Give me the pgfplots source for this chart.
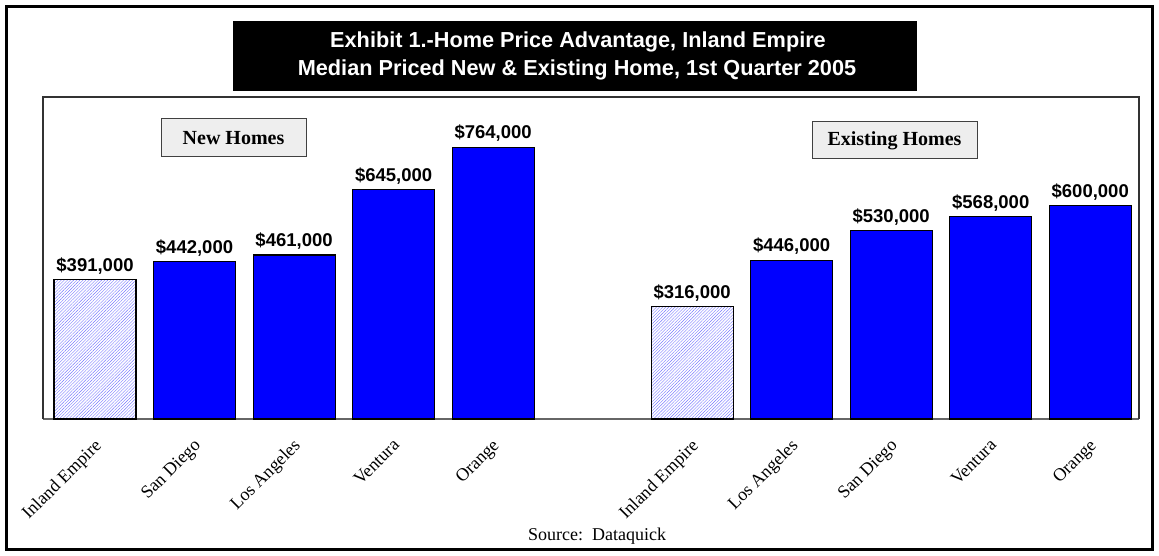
\documentclass[border=0pt]{standalone}
\usepackage{pgfplots}
\pgfplotsset{compat=1.18}
\usepackage{fontspec}
\setmainfont{Liberation Serif}
\newfontfamily\arial{Liberation Sans}
\usetikzlibrary{patterns.meta}
\definecolor{barblue}{RGB}{0,0,255}
\definecolor{hatchblue}{RGB}{120,120,255}
\definecolor{boxgray}{RGB}{238,238,238}
\begin{document}
\begin{tikzpicture}[x=1pt,y=1pt]
\useasboundingbox (0,0) rectangle (1159,556);
\draw[line width=3.2pt] (6.5,6.5) rectangle (1152.5,549.5);
% title
\fill[black] (233,465) rectangle (917,535);
\node[anchor=base,text=white,inner sep=0pt,font={\arial\bfseries\fontsize{21.7}{24}\selectfont}] at (578,508) {Exhibit 1.-Home Price Advantage, Inland Empire};
\node[anchor=base,text=white,inner sep=0pt,font={\arial\bfseries\fontsize{21.7}{24}\selectfont}] at (577,480) {Median Priced New \& Existing Home, 1st Quarter 2005};
\begin{axis}[
  at={(43pt,137pt)}, anchor=south west,
  scale only axis, width=1096pt, height=322pt,
  xmin=-0.5226, xmax=10.49, ymin=0, ymax=905000,
  axis line style={draw=none},
  ytick=\empty,
  xtick={0,1,2,3,4,6,7,8,9,10},
  xticklabels={Inland Empire, San Diego, Los Angeles, Ventura, Orange, Inland Empire, Los Angeles, San Diego, Ventura, Orange},
  major tick length=0pt,
  xticklabel style={rotate=45, anchor=north east, inner sep=0pt, font=\fontsize{18}{20}\selectfont, xshift=-14.4pt, yshift=-12pt},
  clip=false,
  ybar, bar width=0.824, bar shift=0pt,
  point meta=explicit symbolic,
  nodes near coords,
  every node near coord/.append style={anchor=south, inner sep=0pt, yshift=5pt, font={\arial\bfseries\fontsize{18.5}{20}\selectfont}, text=black},
]
\draw[color=gray!80!black, line width=2.5pt] (rel axis cs:0,0) -- (rel axis cs:1,0);
\draw[color=black!80, line width=1.3pt] (rel axis cs:0,0) -- (rel axis cs:0,1) -- (rel axis cs:1,1) -- (rel axis cs:1,0);
\addplot[draw=black, line width=1.1pt, fill=white, postaction={pattern={Lines[angle=45,distance=2.2pt,line width=0.4pt]}, pattern color=hatchblue}] coordinates {
  (0,391000) [\$391,000]
  (6,316000) [\$316,000]
};
\addplot[draw=black, line width=1.1pt, fill=barblue] coordinates {
  (1,442000) [\$442,000]
  (2,461000) [\$461,000]
  (3,645000) [\$645,000]
  (4,764000) [\$764,000]
  (7,446000) [\$446,000]
  (8,530000) [\$530,000]
  (9,568000) [\$568,000]
  (10,600000) [\$600,000]
};
\end{axis}
\node[draw=black!75, line width=1pt, fill=boxgray, minimum width=145pt, minimum height=38pt, inner sep=0pt, font={\bfseries\fontsize{20}{22}\selectfont}] at (233.5,418) {New Homes};
\node[draw=black!75, line width=1pt, fill=boxgray, minimum width=165pt, minimum height=37pt, inner sep=0pt, font={\bfseries\fontsize{20}{22}\selectfont}] at (894.5,415.5) {Existing Homes};
\node[anchor=base, inner sep=0pt, font=\fontsize{18}{20}\selectfont] at (597,15) {Source:\ \ Dataquick};
\end{tikzpicture}
\end{document}
